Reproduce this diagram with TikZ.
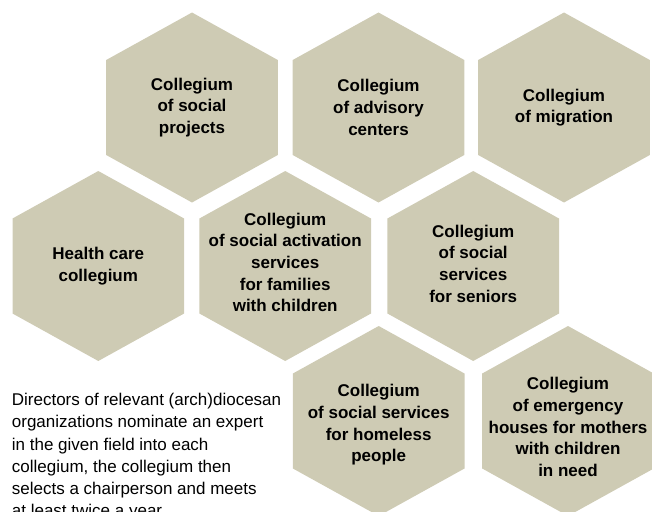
\documentclass[tikz,border=0pt]{standalone}
\usepackage{fontspec}
\setmainfont{Liberation Sans}
\definecolor{hexbeige}{RGB}{206,203,180}
% one honeycomb cell: [text shift], name, x, y, text
\newcommand{\hexcell}[5][0]{%
  \fill[hexbeige] (#3,#4) +(0,-95) -- +(85.8,-47.5) -- +(85.8,47.5)
      -- +(0,95) -- +(-85.8,47.5) -- +(-85.8,-47.5) -- cycle;
  \node[celltext] (#2) at ([yshift=-#1pt]#3,#4) {#5};}

\begin{document}
\begin{tikzpicture}[x=1pt,y=-1pt,
    celltext/.style={align=center,inner sep=0pt,
      font=\fontsize{17}{21.7}\selectfont\bfseries},
    notetext/.style={align=left,inner sep=0pt,anchor=base west,
      font=\fontsize{17}{22.2}\selectfont}]
    % Page frame
    \useasboundingbox (0,0) rectangle (652,511);
    \clip (0,0) rectangle (652,511);
    % Top row
    \hexcell{socproj}{192}{107.5}{Collegium\\of social\\projects}
    \hexcell{advisory}{378.5}{107.5}{Collegium\\of advisory\\centers}
    \hexcell{migration}{564}{107.5}{Collegium\\of migration}
    % Middle row
    \hexcell{health}{98.3}{266}{Health care\\collegium}
    \hexcell[-3.5]{activation}{285.2}{266}{Collegium\\of social activation\\services\\for families\\with children}
    \hexcell[-2.5]{seniors}{473.2}{266}{Collegium\\of social\\services\\for seniors}
    % Bottom row
    \hexcell[4]{homeless}{378.7}{421}{Collegium\\of social services\\for homeless\\people}
    \hexcell[6]{emergency}{568}{421}{Collegium\\of emergency\\houses for mothers\\with children\\in need}
    % Note (base = last line)
    \node[notetext] (note) at (11.7,516.7) {Directors of relevant (arch)diocesan\\
      organizations nominate an expert\\in the given field into each\\
      collegium, the collegium then\\selects a chairperson and meets\\
      at least twice a year.};
\end{tikzpicture}
\end{document}
